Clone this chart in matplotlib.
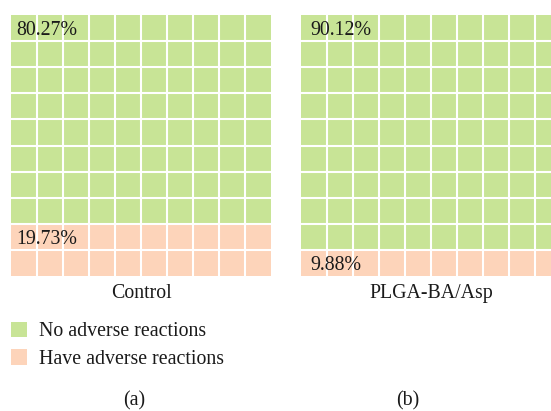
import numpy as np
import matplotlib
matplotlib.use('Agg')
import matplotlib.pyplot as plt
from matplotlib.colors import ListedColormap
from matplotlib.patches import Patch

# data
groups = ['Control', 'PLGA-BA/Asp']
no_adverse = [80.27, 90.12]
have_adverse = [19.73, 9.88]
categories = ['No adverse reactions', 'Have adverse reactions']
panel_tags = ['(a)', '(b)']

green = '#c8e496'
peach = '#fdd4ba'

plt.rcParams['font.family'] = 'Liberation Serif'
fs = 14.3

W, H = 551, 411
fig = plt.figure(figsize=(W / 100, H / 100), dpi=100)


def px_axes(x0, y0, x1, y1):
    # pixel box (top-left origin) -> figure axes
    return fig.add_axes([x0 / W, 1 - y1 / H, (x1 - x0) / W, (y1 - y0) / H])


cmap = ListedColormap([green, peach])
boxes = [(11, 15, 271, 276), (301, 15, 561, 276)]
text_dx = [0.22, 0.35]
tag_x = [134, 408]

for i, g in enumerate(groups):
    ax = px_axes(*boxes[i])
    n_bad = int(round(have_adverse[i]))
    cells = np.zeros(100)
    cells[100 - n_bad:] = 1
    grid = cells.reshape(10, 10)
    ax.imshow(grid, cmap=cmap, vmin=0, vmax=1, extent=(0, 10, 10, 0),
              aspect='auto', interpolation='nearest')
    for k in range(1, 10):
        ax.axvline(k, color='white', lw=1.5)
        ax.axhline(k, color='white', lw=1.5)
    ax.set_xlim(0, 10)
    ax.set_ylim(10, 0)
    ax.axis('off')

    first_bad_row = (100 - n_bad) // 10
    ax.text(text_dx[i], 0.5, f'{no_adverse[i]:.2f}%', fontsize=fs,
            va='center_baseline', ha='left', color='#1a1a1a')
    ax.text(text_dx[i], first_bad_row + 0.5, f'{have_adverse[i]:.2f}%',
            fontsize=fs, va='center_baseline', ha='left', color='#1a1a1a')

    cx = (boxes[i][0] + boxes[i][2]) / 2
    fig.text(cx / W, 1 - 291 / H, g, fontsize=fs, ha='center',
             va='center_baseline', color='#1a1a1a')
    fig.text(tag_x[i] / W, 1 - 398 / H, panel_tags[i], fontsize=fs,
             ha='center', va='center_baseline', color='#1a1a1a')

handles = [Patch(facecolor=green, edgecolor='none'),
           Patch(facecolor=peach, edgecolor='none')]
fig.legend(handles, categories, loc='upper left',
           bbox_to_anchor=(11 / W, 1 - 322 / H), frameon=False,
           fontsize=fs, handlelength=0.8, handleheight=0.8,
           handletextpad=0.6, labelspacing=0.4, borderpad=0,
           borderaxespad=0, labelcolor='#1a1a1a')

fig.savefig('out.png', dpi=100)
